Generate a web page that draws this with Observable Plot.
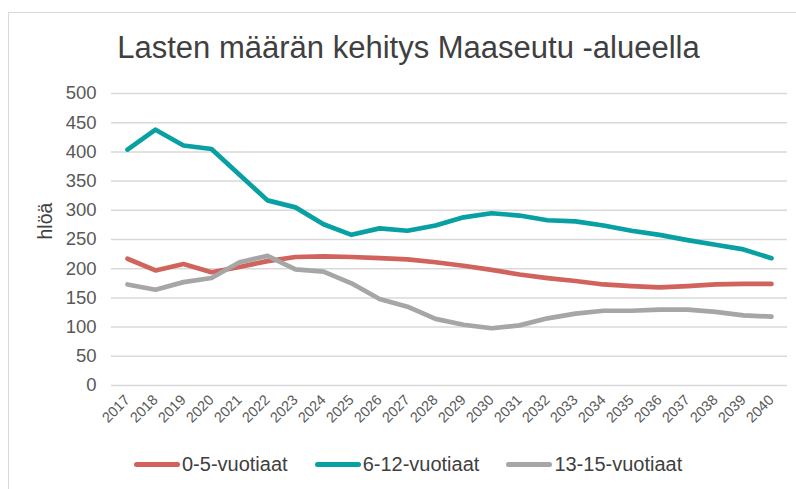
<!DOCTYPE html>
<html>
<head>
<meta charset="utf-8">
<script src="https://cdn.jsdelivr.net/npm/d3@7"></script>
<script src="https://cdn.jsdelivr.net/npm/@observablehq/plot@0.6"></script>
<style>
  html, body { margin: 0; padding: 0; background: #fff; }
  #wrap { position: relative; width: 796px; height: 489px; overflow: hidden; font-family: "Liberation Sans", Arial, sans-serif; }
  #frame { position: absolute; left: 8px; top: 12px; width: 900px; height: 600px; border-left: 1.5px solid #d9d9d9; border-top: 1.5px solid #d9d9d9; }
  #chart { position: absolute; left: 0; top: 0; }
  #title { position: absolute; left: 0; width: 817px; top: 32px; text-align: center; font-size: 31px; line-height: 1; color: #404040; white-space: nowrap; }
  #legend { position: absolute; left: 134px; top: 454px; display: flex; align-items: center; gap: 27px; font-size: 20px; line-height: 1; color: #404040; white-space: nowrap; }
  .item { display: flex; align-items: center; }
  .sw { width: 46px; height: 5px; border-radius: 2.5px; margin-right: 2px; }
</style>
</head>
<body>
<div id="wrap">
  <div id="frame"></div>
  <div id="chart"></div>
  <div id="title"></div>
  <div id="legend"></div>
</div>
<script>
const titleText = "Lasten määrän kehitys Maaseutu -alueella";
const yLabel = "hlöä";
const years = ["2017","2018","2019","2020","2021","2022","2023","2024","2025","2026","2027","2028","2029","2030","2031","2032","2033","2034","2035","2036","2037","2038","2039","2040"];
const seriesNames = ["0-5-vuotiaat", "6-12-vuotiaat", "13-15-vuotiaat"];
const seriesColors = ["#d0645d", "#08a0a3", "#a6a6a6"];
const age0to5 = [217,197,208,194,203,213,220,221,220,218,216,211,205,198,190,184,179,173,170,168,170,173,174,174];
const age6to12 = [404,438,411,405,361,317,305,276,258,269,265,274,288,295,291,283,281,274,265,258,249,241,233,218];
const age13to15 = [173,164,177,184,211,222,199,195,175,148,135,114,104,98,103,115,123,128,128,130,130,126,120,118];
const yTicks = [0,50,100,150,200,250,300,350,400,450,500];

const seriesValues = [age0to5, age6to12, age13to15];
const data = [];
seriesNames.forEach((name, i) => {
  years.forEach((yr, j) => data.push({year: yr, value: seriesValues[i][j], series: name}));
});

const chart = Plot.plot({
  width: 796,
  height: 489,
  marginTop: 93,
  marginBottom: 104,
  marginLeft: 111,
  marginRight: 9,
  style: { fontFamily: "'Liberation Sans', Arial, sans-serif", color: "#595959", background: "transparent" },
  x: { type: "point", domain: years, padding: 0.5, label: null },
  y: { domain: [0, 500], label: null },
  color: { domain: seriesNames, range: seriesColors },
  marks: [
    Plot.ruleY(yTicks, { stroke: "#d9d9d9", strokeWidth: 1.5 }),
    Plot.axisY({ ticks: yTicks, tickSize: 0, tickPadding: 15, fontSize: 18.5, label: null }),
    Plot.axisX({ tickSize: 0, tickRotate: -45, tickPadding: 12, fontSize: 14.5, label: null }),
    Plot.line(data, { x: "year", y: "value", z: "series", stroke: "series", strokeWidth: 4.7 }),
    Plot.text([yLabel], { frameAnchor: "left", dx: -66, rotate: -90, fontSize: 19.5, fill: "#404040" })
  ]
});
document.getElementById("chart").appendChild(chart);
document.getElementById("title").textContent = titleText;

const legend = document.getElementById("legend");
seriesNames.forEach((name, i) => {
  const item = document.createElement("div");
  item.className = "item";
  const sw = document.createElement("span");
  sw.className = "sw";
  sw.style.background = seriesColors[i];
  const t = document.createElement("span");
  t.textContent = name;
  item.appendChild(sw);
  item.appendChild(t);
  legend.appendChild(item);
});
</script>
</body>
</html>
